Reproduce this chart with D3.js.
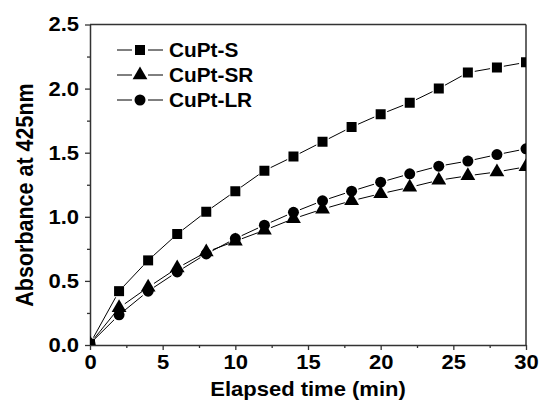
<!DOCTYPE html>
<html>
<head>
<meta charset="utf-8">
<script src="https://cdn.jsdelivr.net/npm/d3@7"></script>
<style>
  body { margin: 0; background: #fff; }
  text { font-family: "Liberation Sans", Arial, sans-serif; font-weight: bold; fill: #000; }
</style>
</head>
<body>
<div id="chart"></div>
<script>
// data
const time = [0, 2, 4, 6, 8, 10, 12, 14, 16, 18, 20, 22, 24, 26, 28, 30];
const cuptS = [0.01, 0.42, 0.66, 0.865, 1.04, 1.20, 1.36, 1.47, 1.585, 1.70, 1.80, 1.89, 2.00, 2.125, 2.165, 2.205];
const cuptSR = [0.01, 0.29, 0.45, 0.60, 0.725, 0.81, 0.895, 0.985, 1.06, 1.125, 1.18, 1.23, 1.285, 1.32, 1.35, 1.39];
const cuptLR = [0.01, 0.235, 0.42, 0.57, 0.71, 0.83, 0.935, 1.035, 1.125, 1.20, 1.27, 1.335, 1.395, 1.435, 1.485, 1.53];
const seriesNames = ["CuPt-S", "CuPt-SR", "CuPt-LR"];
const xTicks = [0, 5, 10, 15, 20, 25, 30];
const yTicks = [0.0, 0.5, 1.0, 1.5, 2.0, 2.5];

function drawChart() {
    const margin = {top: 24.5, right: 13, bottom: 57, left: 90},
        width = 539 - margin.left - margin.right,
        height = 402 - margin.top - margin.bottom;

    const svg = d3.select("#chart")
        .append("svg")
        .attr("width", 539)
        .attr("height", 402)
        .append("g")
        .attr("transform", `translate(${margin.left},${margin.top})`);

    const x = d3.scaleLinear().domain([0, 30]).range([0, width]);
    const y = d3.scaleLinear().domain([0, 2.5]).range([height, 0]);

    svg.append("clipPath").attr("id", "plotclip")
        .append("rect").attr("width", width).attr("height", height);

    // minor ticks
    svg.append("g")
        .attr("transform", `translate(0,${height})`)
        .call(d3.axisBottom(x).tickValues(d3.range(2.5, 30, 5)).tickSize(3).tickFormat(""))
        .call(g => g.select(".domain").remove());
    svg.append("g")
        .call(d3.axisLeft(y).tickValues(d3.range(0.25, 2.5, 0.5)).tickSize(3).tickFormat(""))
        .call(g => g.select(".domain").remove());

    // major axes
    const xAxis = svg.append("g")
        .attr("transform", `translate(0,${height})`)
        .call(d3.axisBottom(x).tickValues(xTicks).tickSize(5).tickSizeOuter(0).tickPadding(5));
    xAxis.selectAll("text").attr("font-size", 20).attr("transform", "scale(1.1,1)");

    const yAxis = svg.append("g")
        .call(d3.axisLeft(y).tickValues(yTicks).tickSize(5).tickSizeOuter(0).tickPadding(5)
            .tickFormat(d3.format(".1f")));
    yAxis.selectAll("text").attr("font-size", 20).attr("transform", "scale(1.1,1)");

    svg.selectAll(".tick line").attr("stroke", "#333").attr("stroke-width", 1.3);
    svg.selectAll(".domain").attr("stroke", "#333").attr("stroke-width", 1.5);

    // top and right frame
    svg.append("line").attr("x1", 0).attr("x2", width).attr("y1", 0).attr("y2", 0)
        .attr("stroke", "#333").attr("stroke-width", 1.5);
    svg.append("line").attr("x1", width).attr("x2", width).attr("y1", 0).attr("y2", height)
        .attr("stroke", "#333").attr("stroke-width", 1.5);

    // axis titles
    svg.append("text")
        .attr("transform", `translate(${width / 2},${height + 51}) scale(1.1,1)`)
        .attr("text-anchor", "middle")
        .attr("font-size", 20)
        .text("Elapsed time (min)");

    svg.append("text")
        .attr("transform", `translate(${33 - margin.left},${195 - margin.top}) rotate(-90) scale(1,1.1)`)
        .attr("text-anchor", "middle")
        .attr("font-size", 21.5)
        .text("Absorbance at 425nm");

    const symbols = [d3.symbolSquare, d3.symbolTriangle, d3.symbolCircle];
    const sizes = [100, 95, 95];
    const allSeries = [cuptS, cuptSR, cuptLR];
    const gap = 7;

    const plot = svg.append("g").attr("clip-path", "url(#plotclip)");

    allSeries.forEach((vals, i) => {
        const pts = time.map((t, j) => [x(t), y(vals[j])]);
        const segs = d3.pairs(pts).map(([a, b]) => {
            const dx = b[0] - a[0], dy = b[1] - a[1];
            const len = Math.hypot(dx, dy);
            const ux = dx / len, uy = dy / len;
            return [a[0] + ux * gap, a[1] + uy * gap, b[0] - ux * gap, b[1] - uy * gap];
        });
        plot.selectAll(".seg" + i)
            .data(segs)
            .enter().append("line")
            .attr("x1", d => d[0]).attr("y1", d => d[1])
            .attr("x2", d => d[2]).attr("y2", d => d[3])
            .attr("stroke", "#000")
            .attr("stroke-width", 1);
        plot.selectAll(".mark" + i)
            .data(pts)
            .enter().append("path")
            .attr("transform", d => `translate(${d[0]},${d[1]})`)
            .attr("d", d3.symbol().type(symbols[i]).size(sizes[i]))
            .attr("fill", "#000");
    });

    // legend
    const legend = svg.append("g").attr("transform", `translate(${117 - margin.left},${50 - margin.top})`);
    seriesNames.forEach((name, i) => {
        const row = legend.append("g").attr("transform", `translate(0,${i * 25})`);
        row.append("line").attr("x1", 0).attr("x2", 15).attr("stroke", "#000").attr("stroke-width", 1);
        row.append("line").attr("x1", 31).attr("x2", 46).attr("stroke", "#000").attr("stroke-width", 1);
        row.append("path")
            .attr("transform", "translate(23,0)")
            .attr("d", d3.symbol().type(symbols[i]).size(sizes[i]))
            .attr("fill", "#000");
        row.append("text")
            .attr("transform", "translate(52,7) scale(1.04,1)")
            .attr("font-size", 20)
            .text(name);
    });
}

drawChart();
</script>
</body>
</html>
